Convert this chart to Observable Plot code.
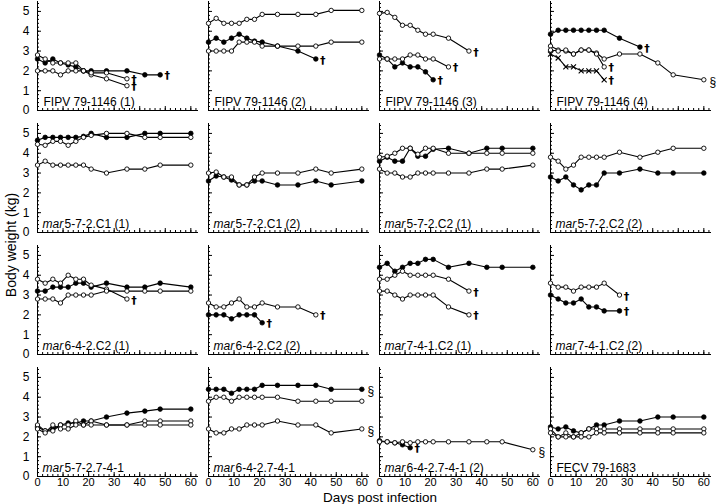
<!DOCTYPE html>
<html><head><meta charset="utf-8">
<script src="https://cdn.jsdelivr.net/npm/d3@7"></script>
<script src="https://cdn.jsdelivr.net/npm/@observablehq/plot@0.6"></script>
<style>body{margin:0;background:#fff;} #chart{width:721px;height:504px;}</style>
</head><body><div id="chart"></div>
<script>
// Sampling days (days post infection)
const days = [0, 3, 6, 9, 12, 15, 18, 21, 27, 35, 42, 48, 60];

// Panel labels (italic prefix + rest)
const panelPrefix = ["", "", "", "",
  "mar", "mar", "mar", "mar",
  "mar", "mar", "mar", "mar",
  "mar", "mar", "mar", ""];
const panelRest = ["FIPV 79-1146 (1)", "FIPV 79-1146 (2)", "FIPV 79-1146 (3)", "FIPV 79-1146 (4)",
  "5-7-2.C1 (1)", "5-7-2.C1 (2)", "5-7-2.C2 (1)", "5-7-2.C2 (2)",
  "6-4-2.C2 (1)", "6-4-2.C2 (2)", "7-4-1.C2 (1)", "7-4-1.C2 (2)",
  "5-7-2.7-4-1", "6-4-2.7-4-1", "6-4-2.7-4-1 (2)", "FECV 79-1683"];

// Series (one per cat)
const seriesPanel = [
  0, 0, 0,
  1, 1, 1,
  2, 2, 2,
  3, 3, 3, 3,
  4, 4, 4,
  5, 5,
  6, 6, 6,
  7, 7,
  8, 8, 8,
  9, 9,
  10, 10, 10,
  11, 11,
  12, 12, 12,
  13, 13, 13,
  14, 14,
  15, 15, 15];
const seriesMarker = [
  "filled", "open", "open",
  "open", "filled", "open",
  "open", "filled", "open",
  "filled", "open", "open", "cross",
  "filled", "open", "open",
  "open", "filled",
  "filled", "open", "open",
  "open", "filled",
  "open", "filled", "open",
  "open", "filled",
  "filled", "open", "open",
  "open", "filled",
  "filled", "open", "open",
  "filled", "open", "open",
  "open", "filled",
  "filled", "open", "open"];
const seriesEnd = [
  "†", "†", "†",
  "", "†", "",
  "†", "†", "†",
  "†", "§", "†", "†",
  "", "", "",
  "", "",
  "", "", "",
  "", "",
  "†", "", "",
  "†", "†",
  "", "†", "†",
  "†", "†",
  "", "", "",
  "§", "", "§",
  "§", "†",
  "", "", ""];
const seriesWeights = [
  // FIPV 79-1146 (1)
  [2.6, 2.4, 2.6, 2.4, 2.3, 2.2, 2.0, 2.0, 2.0, 2.0, 1.8, 1.8],
  [2.8, 2.6, 2.4, 2.4, 2.4, 2.4, 2.0, 1.8, 1.6, 1.25],
  [2.0, 2.0, 2.0, 1.8, 2.0, 2.0, 2.0, 1.9, 1.9, 1.6],
  // FIPV 79-1146 (2)
  [4.4, 4.65, 4.4, 4.4, 4.4, 4.6, 4.6, 4.85, 4.85, 4.85, 4.85, 5.05, 5.05],
  [3.45, 3.65, 3.45, 3.65, 3.85, 3.65, 3.5, 3.45, 3.25, 3.0, 2.6],
  [3.0, 3.0, 3.0, 3.0, 3.45, 3.45, 3.45, 3.25, 3.25, 3.25, 3.25, 3.45, 3.45],
  // FIPV 79-1146 (3)
  [4.9, 4.95, 4.7, 4.3, 4.3, 4.05, 3.85, 3.85, 3.65, 3.0],
  [2.8, 2.6, 2.2, 2.4, 2.2, 2.2, 1.95, 1.55],
  [2.6, 2.6, 2.6, 2.6, 2.8, 2.8, 2.6, 2.6, 2.2],
  // FIPV 79-1146 (4)
  [3.85, 4.05, 4.05, 4.05, 4.05, 4.05, 4.05, 4.05, 3.65, 3.2],
  [3.25, 3.05, 3.0, 2.85, 3.05, 3.05, 2.9, 2.6, 2.85, 2.85, 2.4, 1.8, 1.55],
  [3.05, 3.0, 3.05, 2.85, 3.05, 3.05, 2.85, 2.2],
  [2.85, 2.65, 2.2, 2.2, 2.0, 2.0, 2.0, 1.55],
  // mar 5-7-2.C1 (1)
  [4.65, 4.8, 4.8, 4.8, 4.8, 4.8, 4.85, 5.0, 4.8, 4.8, 5.0, 5.0, 5.0],
  [4.45, 4.4, 4.6, 4.6, 4.4, 4.6, 4.8, 4.9, 5.0, 5.0, 4.8, 4.8, 4.8],
  [3.4, 3.6, 3.4, 3.4, 3.4, 3.4, 3.4, 3.2, 3.0, 3.2, 3.2, 3.4, 3.4],
  // mar 5-7-2.C1 (2)
  [3.0, 3.05, 2.8, 2.8, 2.4, 2.4, 2.8, 3.0, 3.0, 3.0, 3.2, 3.0, 3.2],
  [2.6, 2.85, 2.8, 2.65, 2.4, 2.4, 2.6, 2.6, 2.4, 2.4, 2.6, 2.4, 2.6],
  // mar 5-7-2.C2 (1)
  [3.6, 3.8, 3.6, 3.6, 4.25, 3.85, 3.85, 4.2, 4.25, 4.0, 4.25, 4.25, 4.25],
  [3.8, 3.85, 4.0, 4.25, 4.25, 3.95, 4.25, 4.25, 4.0, 4.0, 4.0, 4.0, 4.0],
  [3.2, 3.0, 3.0, 2.8, 2.8, 3.0, 3.0, 3.0, 3.0, 3.0, 3.2, 3.2, 3.4],
  // mar 5-7-2.C2 (2)
  [3.8, 3.6, 3.2, 3.4, 3.8, 3.8, 3.8, 3.8, 4.05, 3.8, 4.05, 4.25, 4.25],
  [2.8, 2.6, 2.8, 2.4, 2.15, 2.4, 2.4, 3.0, 3.0, 3.2, 3.0, 3.0, 3.0],
  // mar 6-4-2.C2 (1)
  [3.8, 3.6, 3.8, 3.6, 4.0, 3.8, 3.8, 3.5, 3.3, 2.8],
  [3.2, 3.2, 3.4, 3.4, 3.4, 3.6, 3.6, 3.4, 3.6, 3.4, 3.4, 3.6, 3.4],
  [2.8, 2.8, 2.8, 2.6, 3.0, 3.0, 3.0, 3.0, 3.2, 3.2, 3.2, 3.2, 3.2],
  // mar 6-4-2.C2 (2)
  [2.6, 2.4, 2.4, 2.6, 2.8, 2.4, 2.4, 2.6, 2.4, 2.4, 2.0],
  [2.0, 2.0, 2.0, 1.8, 2.0, 2.0, 2.0, 1.6],
  // mar 7-4-1.C2 (1)
  [4.4, 4.6, 4.2, 4.4, 4.6, 4.6, 4.8, 4.8, 4.4, 4.6, 4.4, 4.4, 4.4],
  [3.8, 3.8, 4.0, 4.2, 4.0, 4.0, 4.0, 4.0, 3.8, 3.2],
  [3.2, 3.2, 3.0, 2.8, 3.0, 3.0, 3.0, 3.0, 2.4, 2.0],
  // mar 7-4-1.C2 (2)
  [3.6, 3.4, 3.4, 3.2, 3.4, 3.4, 3.4, 3.6, 3.0],
  [3.0, 2.8, 2.6, 2.6, 2.8, 2.4, 2.4, 2.2, 2.2],
  // mar 5-7-2.7-4-1
  [2.5, 2.3, 2.4, 2.6, 2.7, 2.7, 2.8, 2.8, 3.0, 3.2, 3.3, 3.4, 3.4],
  [2.6, 2.3, 2.3, 2.6, 2.6, 2.8, 2.6, 2.8, 2.6, 2.6, 2.8, 2.8, 2.8],
  [2.4, 2.2, 2.6, 2.4, 2.4, 2.6, 2.6, 2.6, 2.6, 2.6, 2.6, 2.6, 2.6],
  // mar 6-4-2.7-4-1
  [4.4, 4.4, 4.4, 4.2, 4.4, 4.4, 4.4, 4.6, 4.6, 4.6, 4.6, 4.4, 4.4],
  [3.8, 4.0, 4.0, 3.8, 4.0, 4.0, 4.0, 4.0, 4.0, 3.8, 3.8, 3.8, 3.8],
  [2.4, 2.2, 2.2, 2.4, 2.4, 2.6, 2.6, 2.6, 2.8, 2.6, 2.6, 2.2, 2.4],
  // mar 6-4-2.7-4-1 (2)
  [1.75, 1.75, 1.7, 1.75, 1.7, 1.75, 1.75, 1.75, 1.75, 1.75, 1.75, 1.75, 1.35],
  [1.8, 1.75, 1.7, 1.6, 1.45],
  // FECV 79-1683
  [2.5, 2.4, 2.5, 2.3, 2.2, 2.4, 2.6, 2.6, 2.8, 2.8, 3.0, 3.0, 3.0],
  [2.4, 2.0, 2.2, 2.0, 2.2, 2.4, 2.4, 2.4, 2.4, 2.4, 2.4, 2.4, 2.4],
  [2.2, 2.0, 2.0, 2.0, 2.0, 2.0, 2.2, 2.2, 2.2, 2.2, 2.2, 2.2, 2.2]
];

const yTickLabels = [0, 1, 2, 3, 4, 5];
const xTickLabels = [0, 10, 20, 30, 40, 50, 60];
const yMinorTicks = d3.range(0, 5.41, 0.2);
const xMinorTicks = d3.range(0, 62.1, 2);
const xTitle = "Days post infection";
const yTitle = "Body weight (kg)";

// Build the table
const rows = [];
seriesWeights.forEach((w, s) => {
  const p = seriesPanel[s];
  w.forEach((kg, i) => rows.push({series: s, panel: p, col: p % 4, row: Math.floor(p / 4),
    day: days[i], kg, marker: seriesMarker[s]}));
});
const ends = seriesWeights.map((w, s) => {
  const p = seriesPanel[s];
  return {panel: p, col: p % 4, row: Math.floor(p / 4), day: days[w.length - 1], kg: w[w.length - 1], sym: seriesEnd[s]};
}).filter(d => d.sym);
const panels = d3.range(16).map(i => ({i, col: i % 4, row: Math.floor(i / 4), prefix: panelPrefix[i], rest: panelRest[i]}));

const font = "'Liberation Sans', Arial, Helvetica, sans-serif";
const chart = Plot.plot({
  width: 721, height: 504,
  marginLeft: 35, marginRight: 8, marginTop: 0, marginBottom: 28,
  x: {domain: [0, 63]},
  y: {domain: [0, 5.5]},
  fx: {axis: null, domain: [0, 1, 2, 3], paddingInner: 0.058, paddingOuter: 0},
  fy: {axis: null, domain: [0, 1, 2, 3], paddingInner: 0.108, paddingOuter: 0},
  style: {fontFamily: font, fontSize: "11px", color: "black", background: "white"},
  marks: [
    Plot.ruleX([0], {stroke: "black", strokeWidth: 1}),
    Plot.ruleY([0], {stroke: "black", strokeWidth: 1}),
    Plot.axisY(yMinorTicks, {anchor: "left", tickSize: 2, dx: 2, tickFormat: () => "", facetAnchor: null, label: null}),
    Plot.axisY(yTickLabels, {anchor: "left", tickSize: 4, dx: 4, tickFormat: () => "", facetAnchor: null, label: null}),
    Plot.axisX(xMinorTicks, {anchor: "bottom", tickSize: 2, dy: -2, tickFormat: () => "", facetAnchor: null, label: null}),
    Plot.axisX(xTickLabels, {anchor: "bottom", tickSize: 4, dy: -4, tickFormat: () => "", facetAnchor: null, label: null}),
    Plot.axisY(yTickLabels, {anchor: "left", tickSize: 0, tickPadding: 8, label: null, fontSize: 12, fill: "black"}),
    Plot.axisX(xTickLabels, {anchor: "bottom", tickSize: 0, tickPadding: 2, label: null, fontSize: 11, fill: "black"}),
    Plot.line(rows, {x: "day", y: "kg", z: "series", fx: "col", fy: "row", stroke: "black", strokeWidth: 1.1}),
    Plot.dot(rows.filter(d => d.marker === "filled"), {x: "day", y: "kg", fx: "col", fy: "row", r: 2.3, fill: "black", stroke: "black", strokeWidth: 0.8}),
    Plot.dot(rows.filter(d => d.marker === "open"), {x: "day", y: "kg", fx: "col", fy: "row", r: 2.2, fill: "white", stroke: "black", strokeWidth: 0.9}),
    Plot.dot(rows.filter(d => d.marker === "cross"), {x: "day", y: "kg", fx: "col", fy: "row", r: 2.4, symbol: "times", stroke: "black", strokeWidth: 1.1}),
    Plot.text(ends.filter(d => d.sym === "†"), {x: "day", y: "kg", fx: "col", fy: "row", text: "sym", dx: 7, dy: 1, fontSize: 11, fontWeight: "bold", fill: "black", fontFamily: "'DejaVu Sans', sans-serif"}),
    Plot.text(ends.filter(d => d.sym === "§"), {x: "day", y: "kg", fx: "col", fy: "row", text: "sym", dx: 9, dy: 2, fontSize: 12, fill: "black"}),
    Plot.text(panels.filter(d => d.prefix), {fx: "col", fy: "row", text: "prefix", frameAnchor: "bottom-left", textAnchor: "start", lineAnchor: "bottom", dx: 5, dy: -5, fontSize: 12, fontStyle: "italic", fill: "black"}),
    Plot.text(panels.filter(d => d.prefix), {fx: "col", fy: "row", text: "rest", frameAnchor: "bottom-left", textAnchor: "start", lineAnchor: "bottom", dx: 27, dy: -5, fontSize: 12, fill: "black"}),
    Plot.text(panels.filter(d => !d.prefix), {fx: "col", fy: "row", text: "rest", frameAnchor: "bottom-left", textAnchor: "start", lineAnchor: "bottom", dx: 6, dy: -5, fontSize: 12, fill: "black"})
  ]
});

const svg = d3.select(chart);
svg.append("text").attr("x", 380).attr("y", 502).attr("text-anchor", "middle")
  .attr("font-family", font).attr("font-size", 13.5).attr("fill", "black").text(xTitle);
svg.append("text").attr("transform", "translate(16,245) rotate(-90)").attr("text-anchor", "middle")
  .attr("font-family", font).attr("font-size", 14).attr("fill", "black").text(yTitle);
document.getElementById("chart").appendChild(chart);
</script>
</body></html>
